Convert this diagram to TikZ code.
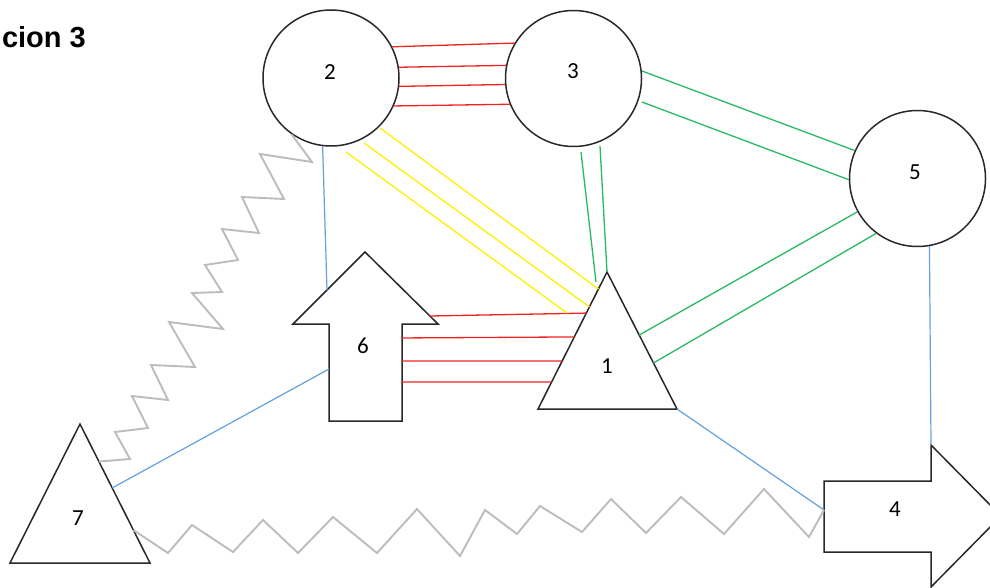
\documentclass[tikz,border=0pt]{standalone}
\usepackage{fontspec}
\setmainfont{Carlito}
\newfontfamily\headfont{Liberation Sans}
\usetikzlibrary{calc}
\definecolor{redc}{RGB}{240,35,35}
\definecolor{yelc}{RGB}{255,240,0}
\definecolor{grnc}{RGB}{40,185,100}
\definecolor{bluc}{RGB}{100,160,222}
\definecolor{zigc}{RGB}{188,188,188}
\definecolor{outl}{RGB}{40,40,40}
\begin{document}
\begin{tikzpicture}[x=1pt,y=-1pt,
  outline/.style={draw=outl,line width=1.5pt,line join=miter},
  circ/.style={outline,circle,minimum size=136pt,inner sep=0pt},
  lbl/.style={font=\fontsize{23}{25}\selectfont,inner sep=0pt,text=black},
  redl/.style={draw=redc,line width=1.3pt},
  yell/.style={draw=yelc,line width=1.3pt},
  grnl/.style={draw=grnc,line width=1.3pt},
  blul/.style={draw=bluc,line width=1.2pt},
  zig/.style={draw=zigc,line width=1.9pt,line join=miter}
]
\useasboundingbox (0,0) rectangle (990,588);

% title
\node[anchor=base east,inner sep=0pt,font=\headfont\bfseries\fontsize{29}{32}\selectfont] (title) at (86,48) {cion 3};

% circles
\node[circ] (c2) at (331,78) {};
\node[circ] (c3) at (573.5,78.5) {};
\node[circ] (c5) at (917.5,178.5) {};

% triangle 1
\coordinate (t1a) at (607,272);
\coordinate (t1l) at (538,409);
\coordinate (t1r) at (677,409);
\draw[outline] (t1a) -- (t1l) -- (t1r) -- cycle;

% triangle 7
\coordinate (t7a) at (80,424);
\coordinate (t7l) at (10,563);
\coordinate (t7r) at (150,563);
\draw[outline] (t7a) -- (t7l) -- (t7r) -- cycle;

% up arrow 6
\coordinate (a6tip) at (365,252);
\coordinate (a6hr) at (438,324);
\coordinate (a6sr) at (402,324);
\coordinate (a6br) at (402,421);
\coordinate (a6bl) at (329,421);
\coordinate (a6sl) at (329,324);
\coordinate (a6hl) at (293,324);
\draw[outline] (a6tip) -- (a6hr) -- (a6sr) -- (a6br) -- (a6bl) -- (a6sl) -- (a6hl) -- cycle;

% right arrow 4
\coordinate (a4tl) at (824,481);
\coordinate (a4st) at (931,481);
\coordinate (a4ht) at (931,445);
\coordinate (a4tip) at (1001,516);
\coordinate (a4hb) at (931,587);
\coordinate (a4sb) at (931,552);
\coordinate (a4bl) at (824,552);
\draw[outline] (a4tl) -- (a4st) -- (a4ht) -- (a4tip) -- (a4hb) -- (a4sb) -- (a4bl) -- cycle;

% labels
\node[lbl] (l2) at (330,72) {2};
\node[lbl] (l3) at (573,71) {3};
\node[lbl] (l5) at (915,172) {5};
\node[lbl] (l1) at (607,366) {1};
\node[lbl] (l6) at (363,346) {6};
\node[lbl] (l7) at (78,518) {7};
\node[lbl] (l4) at (895,509) {4};

% red 2-3
\draw[redl] (c2.27.7) -- (c3.149.5);
\draw[redl] (c2.9.2) -- (c3.169.4);
\draw[redl] (c2.-7.5) -- (c3.185.5);
\draw[redl] (c2.-24.7) -- (c3.202.7);

% red 6-1
\draw[redl] ($(a6tip)!0.889!(a6hr)$) -- ($(t1a)!0.30!(t1l)$);
\draw[redl] ($(a6sr)!0.144!(a6br)$) -- ($(t1a)!0.474!(t1l)$);
\draw[redl] ($(a6sr)!0.381!(a6br)$) -- ($(t1a)!0.65!(t1l)$);
\draw[redl] ($(a6sr)!0.598!(a6br)$) -- ($(t1a)!0.803!(t1l)$);

% yellow 2-1
\coordinate (y3s) at (346,152);
\coordinate (y3e) at (567,313);
\coordinate (y2s) at (364,143);
\coordinate (y1s) at (380,128);
\draw[yell] (y1s) -- ($(t1a)!0.124!(t1l)$);
\draw[yell] (y2s) -- ($(t1a)!0.255!(t1l)$);
\draw[yell] (y3s) -- (y3e);

% green 3-1
\coordinate (g1e) at (596,282);
\coordinate (g1s) at (581,152);
\coordinate (g2s) at (600,146);
\draw[grnl] (g1s) -- (g1e);
\draw[grnl] (g2s) -- (t1a);

% green 3-5
\coordinate (g35a) at (642,71);
\coordinate (g35b) at (642,102);
\draw[grnl] (g35a) -- (c5.156.6);
\draw[grnl] (g35b) -- (c5.181.3);

% green 5-1
\draw[grnl] (c5.209.7) -- ($(t1a)!0.46!(t1r)$);
\draw[grnl] (c5.233) -- ($(t1a)!0.664!(t1r)$);

% blue
\draw[blul] (c2.-97.4) -- ($(a6tip)!0.528!(a6hl)$);
\draw[blul] ($(a6sl)!0.464!(a6bl)$) -- ($(t7a)!0.46!(t7r)$);
\draw[blul] (t1r) -- ($(a4tl)!0.408!(a4bl)$);
\draw[blul] (c5.-80.9) -- (a4ht);

% zigzag 2-7
\draw[zig] (c2.-125) -- (312,162) -- (260,154) -- (284,199) -- (242,197) -- (259,233)
  -- (222,229) -- (238,260) -- (205,265) -- (222,292) -- (192,293) -- (223,329)
  -- (169,322) -- (195,367) -- (151,365) -- (168,400) -- (132,396) -- (148,428)
  -- (115,432) -- (130,459) -- ($(t7a)!0.27!(t7r)$);

% zigzag 7-4
\draw[zig] ($(t7a)!0.763!(t7r)$) -- (168,553) -- (192,525) -- (233,552) -- (263,520)
  -- (298,553) -- (333,517) -- (377,553) -- (417,509) -- (460,556) -- (485,510)
  -- (517,534) -- (540,506) -- (582,532) -- (611,499) -- (646,533) -- (681,497)
  -- (724,534) -- (764,489) -- (809,537) -- ($(a4tl)!0.408!(a4bl)$);
\end{tikzpicture}
\end{document}
